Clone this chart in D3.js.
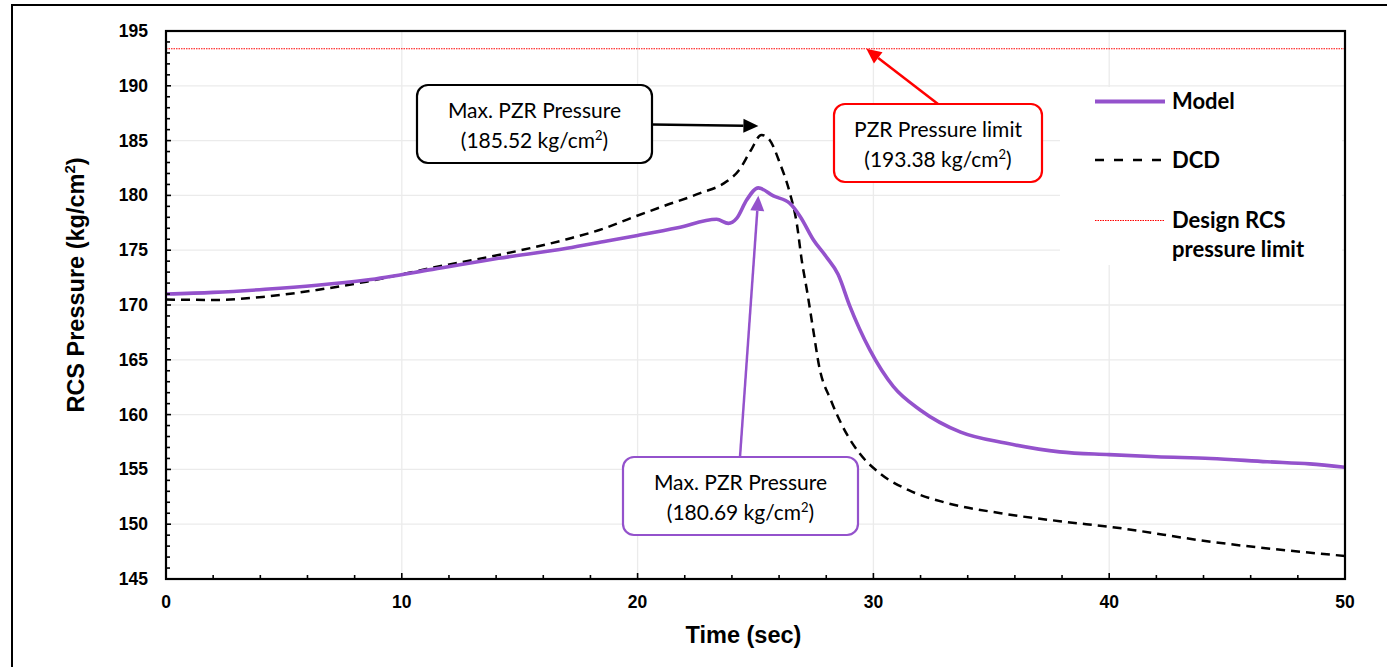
<!DOCTYPE html>
<html>
<head>
<meta charset="utf-8">
<script src="https://cdn.jsdelivr.net/npm/d3@7"></script>
<style>
  body { margin: 0; background: #fff; }
  svg { display: block; }
</style>
</head>
<body>
<svg id="chart" width="1387" height="667"></svg>
<script>
// Pressurizer / RCS pressure transient: model result vs. DCD reference
const modelTime = [0, 2, 4.2, 6.4, 8.5, 11.3, 14.1, 17, 18.7, 20, 21.7, 23.35, 23.85, 24.2, 24.63, 25.12, 25.76, 26.46, 26.9, 27.46, 28.0, 28.5, 29.0, 29.85, 30.85, 32, 33.7, 35.6, 37.9, 40, 42, 44.3, 46.7, 48.5, 50];
const modelPressure = [171.0, 171.15, 171.43, 171.8, 172.28, 173.25, 174.26, 175.17, 175.84, 176.35, 177.05, 177.82, 177.45, 177.9, 179.6, 180.69, 179.95, 179.28, 178.06, 175.93, 174.4, 172.8, 169.9, 165.9, 162.55, 160.4, 158.4, 157.4, 156.6, 156.35, 156.15, 156.0, 155.7, 155.5, 155.2];

const dcdTime = [0, 2.1, 4.2, 6.4, 8.5, 11.3, 14.1, 17, 18.6, 19.8, 21.2, 22.65, 23.77, 24.3, 24.8, 25.25, 25.6, 26.04, 26.46, 26.75, 26.96, 27.2, 27.45, 27.7, 28.2, 28.7, 29.4, 30.3, 31.5, 33, 35.4, 38.2, 40, 44.3, 50];
const dcdPressure = [170.5, 170.46, 170.76, 171.37, 172.13, 173.4, 174.56, 176.0, 177.0, 178.0, 179.1, 180.2, 181.26, 182.3, 184.1, 185.52, 185.05, 182.9, 180.2, 177.45, 174.1, 171.1, 167.7, 164.4, 161.3, 158.9, 156.5, 154.6, 153.1, 152.0, 151.0, 150.2, 149.77, 148.4, 147.1];

const designLimit = 193.38;

const xTicks = [0, 10, 20, 30, 40, 50];
const yTicks = [145, 150, 155, 160, 165, 170, 175, 180, 185, 190, 195];

const legendLabels = ["Model", "DCD", "Design RCS", "pressure limit"];

const purple = "#9452cc";
const svg = d3.select("#chart");

const plot = { left: 166, right: 1345, top: 31, bottom: 579 };
const x = d3.scaleLinear().domain([0, 50]).range([plot.left, plot.right]);
const y = d3.scaleLinear().domain([145, 195]).range([plot.bottom, plot.top]);

// outer frame (left and top edges)
svg.append("path")
  .attr("d", `M12,667 V5 H1387`)
  .attr("fill", "none").attr("stroke", "#000").attr("stroke-width", 2);

// grid
const grid = svg.append("g").attr("stroke", "#ebebeb").attr("stroke-width", 1.3);
grid.selectAll("line.h").data(yTicks).join("line")
  .attr("x1", plot.left).attr("x2", plot.right)
  .attr("y1", d => y(d)).attr("y2", d => y(d));
grid.selectAll("line.v").data(xTicks).join("line")
  .attr("y1", plot.top).attr("y2", plot.bottom)
  .attr("x1", d => x(d)).attr("x2", d => x(d));

// clip for series
svg.append("clipPath").attr("id", "clip").append("rect")
  .attr("x", plot.left).attr("y", plot.top)
  .attr("width", plot.right - plot.left).attr("height", plot.bottom - plot.top);

const series = svg.append("g").attr("clip-path", "url(#clip)");

// design limit line
series.append("line")
  .attr("x1", plot.left).attr("x2", plot.right)
  .attr("y1", y(designLimit)).attr("y2", y(designLimit))
  .attr("stroke", "#ff0000").attr("stroke-width", 1)
  .attr("stroke-dasharray", "1.5,1");

const line = d3.line().curve(d3.curveMonotoneX);

series.append("path")
  .attr("d", line(dcdTime.map((t, i) => [x(t), y(dcdPressure[i])])))
  .attr("fill", "none").attr("stroke", "#000").attr("stroke-width", 2.5)
  .attr("stroke-dasharray", "9,6");

series.append("path")
  .attr("d", line(modelTime.map((t, i) => [x(t), y(modelPressure[i])])))
  .attr("fill", "none").attr("stroke", purple).attr("stroke-width", 3.6)
  .attr("stroke-linejoin", "round");

// legend (white panel over the grid)
const lg = svg.append("g");
lg.append("rect").attr("x", 1060).attr("y", 87).attr("width", 282).attr("height", 178).attr("fill", "#fff");
lg.append("line").attr("x1", 1095).attr("x2", 1165).attr("y1", 101.5).attr("y2", 101.5)
  .attr("stroke", purple).attr("stroke-width", 4);
lg.append("line").attr("x1", 1095).attr("x2", 1161).attr("y1", 160).attr("y2", 160)
  .attr("stroke", "#000").attr("stroke-width", 2.5).attr("stroke-dasharray", "9,10");
lg.append("line").attr("x1", 1095).attr("x2", 1165).attr("y1", 220.5).attr("y2", 220.5)
  .attr("stroke", "#ff0000").attr("stroke-width", 1).attr("stroke-dasharray", "1.5,1");
const legendY = [109, 168, 228, 257];
lg.selectAll("text").data(legendLabels).join("text")
  .attr("x", 1172).attr("y", (d, i) => legendY[i])
  .attr("font-family", "Lato, 'Open Sans', sans-serif")
  .attr("font-weight", 700).attr("font-size", 22).attr("fill", "#000")
  .text(d => d);

// axes frame
svg.append("rect")
  .attr("x", plot.left).attr("y", plot.top)
  .attr("width", plot.right - plot.left).attr("height", plot.bottom - plot.top)
  .attr("fill", "none").attr("stroke", "#000").attr("stroke-width", 2.2);

// ticks (inside)
const ticks = svg.append("g").attr("stroke", "#000").attr("stroke-width", 1.6);
ticks.selectAll("line.y").data(d3.range(146, 195, 1)).join("line")
  .attr("x1", plot.left).attr("x2", d => plot.left + (d % 5 === 0 ? 5 : 4))
  .attr("y1", d => y(d)).attr("y2", d => y(d));
ticks.selectAll("line.x").data(d3.range(2, 50, 2)).join("line")
  .attr("y1", plot.bottom).attr("y2", d => plot.bottom - (d % 10 === 0 ? 6 : 4))
  .attr("x1", d => x(d)).attr("x2", d => x(d));

// tick labels
const tickFont = "'Liberation Sans', Arial, sans-serif";
svg.append("g").selectAll("text").data(yTicks).join("text")
  .attr("x", 148).attr("y", d => y(d) + 6)
  .attr("text-anchor", "end")
  .attr("font-family", tickFont).attr("font-weight", 700).attr("font-size", 17.5)
  .text(d => d);
svg.append("g").selectAll("text").data(xTicks).join("text")
  .attr("x", d => x(d)).attr("y", 608)
  .attr("text-anchor", "middle")
  .attr("font-family", tickFont).attr("font-weight", 700).attr("font-size", 17.5)
  .text(d => d);

// axis titles
svg.append("text")
  .attr("x", x(25) - 12).attr("y", 643)
  .attr("text-anchor", "middle")
  .attr("font-family", tickFont).attr("font-weight", 700).attr("font-size", 23.5)
  .text("Time (sec)");

const yt = svg.append("text")
  .attr("transform", "translate(84,285) rotate(-90)")
  .attr("text-anchor", "middle")
  .attr("font-family", tickFont).attr("font-weight", 700).attr("font-size", 23.5);
yt.append("tspan").text("RCS Pressure (kg/cm");
yt.append("tspan").attr("dy", -9).attr("font-size", 15).text("2");
yt.append("tspan").attr("dy", 9).text(")");

// callouts
const calloutFont = "Lato, 'Open Sans', sans-serif";
function callout(box, color, title, value, from, tip) {
  const g = svg.append("g");
  // arrow shaft
  const ang = Math.atan2(tip[1] - from[1], tip[0] - from[0]);
  const head = 15, half = 7;
  const bx = tip[0] - head * Math.cos(ang), by = tip[1] - head * Math.sin(ang);
  g.append("line").attr("x1", from[0]).attr("y1", from[1]).attr("x2", bx).attr("y2", by)
    .attr("stroke", color).attr("stroke-width", 2.5);
  const px = -Math.sin(ang), py = Math.cos(ang);
  g.append("path")
    .attr("d", `M${tip[0]},${tip[1]} L${bx + px * half},${by + py * half} L${bx - px * half},${by - py * half} Z`)
    .attr("fill", color);
  g.append("rect")
    .attr("x", box.x).attr("y", box.y).attr("width", box.w).attr("height", box.h)
    .attr("rx", 11).attr("fill", "#fff").attr("stroke", color).attr("stroke-width", 2.2);
  const cx = box.x + box.w / 2;
  const t = g.append("text").attr("text-anchor", "middle")
    .attr("font-family", calloutFont).attr("font-size", 21).attr("fill", "#000");
  t.append("tspan").attr("x", cx).attr("y", box.y + 33).text(title);
  const t2 = g.append("text").attr("text-anchor", "middle")
    .attr("font-family", calloutFont).attr("font-size", 21).attr("fill", "#000")
    .attr("x", cx).attr("y", box.y + 63);
  t2.append("tspan").text(`(${value.toFixed(2)} kg/cm`);
  t2.append("tspan").attr("dy", -8).attr("font-size", 13).text("2");
  t2.append("tspan").attr("dy", 8).text(")");
}

const dcdPeak = d3.max(dcdPressure);
const modelPeak = d3.max(modelPressure);
const dcdPeakT = dcdTime[dcdPressure.indexOf(dcdPeak)];
const modelPeakT = modelTime[modelPressure.indexOf(modelPeak)];

callout({ x: 417, y: 85, w: 235, h: 78 }, "#000", "Max. PZR Pressure", dcdPeak,
  [652, 124.5], [x(dcdPeakT) - 3, y(dcdPeak) - 9]);
callout({ x: 623, y: 457, w: 235, h: 78 }, purple, "Max. PZR Pressure", modelPeak,
  [740, 457], [x(modelPeakT), y(modelPeak) + 8]);
callout({ x: 834, y: 104, w: 208, h: 78 }, "#ff0000", "PZR Pressure limit", designLimit,
  [938, 104], [x(29.7), y(designLimit)]);
</script>
</body>
</html>
